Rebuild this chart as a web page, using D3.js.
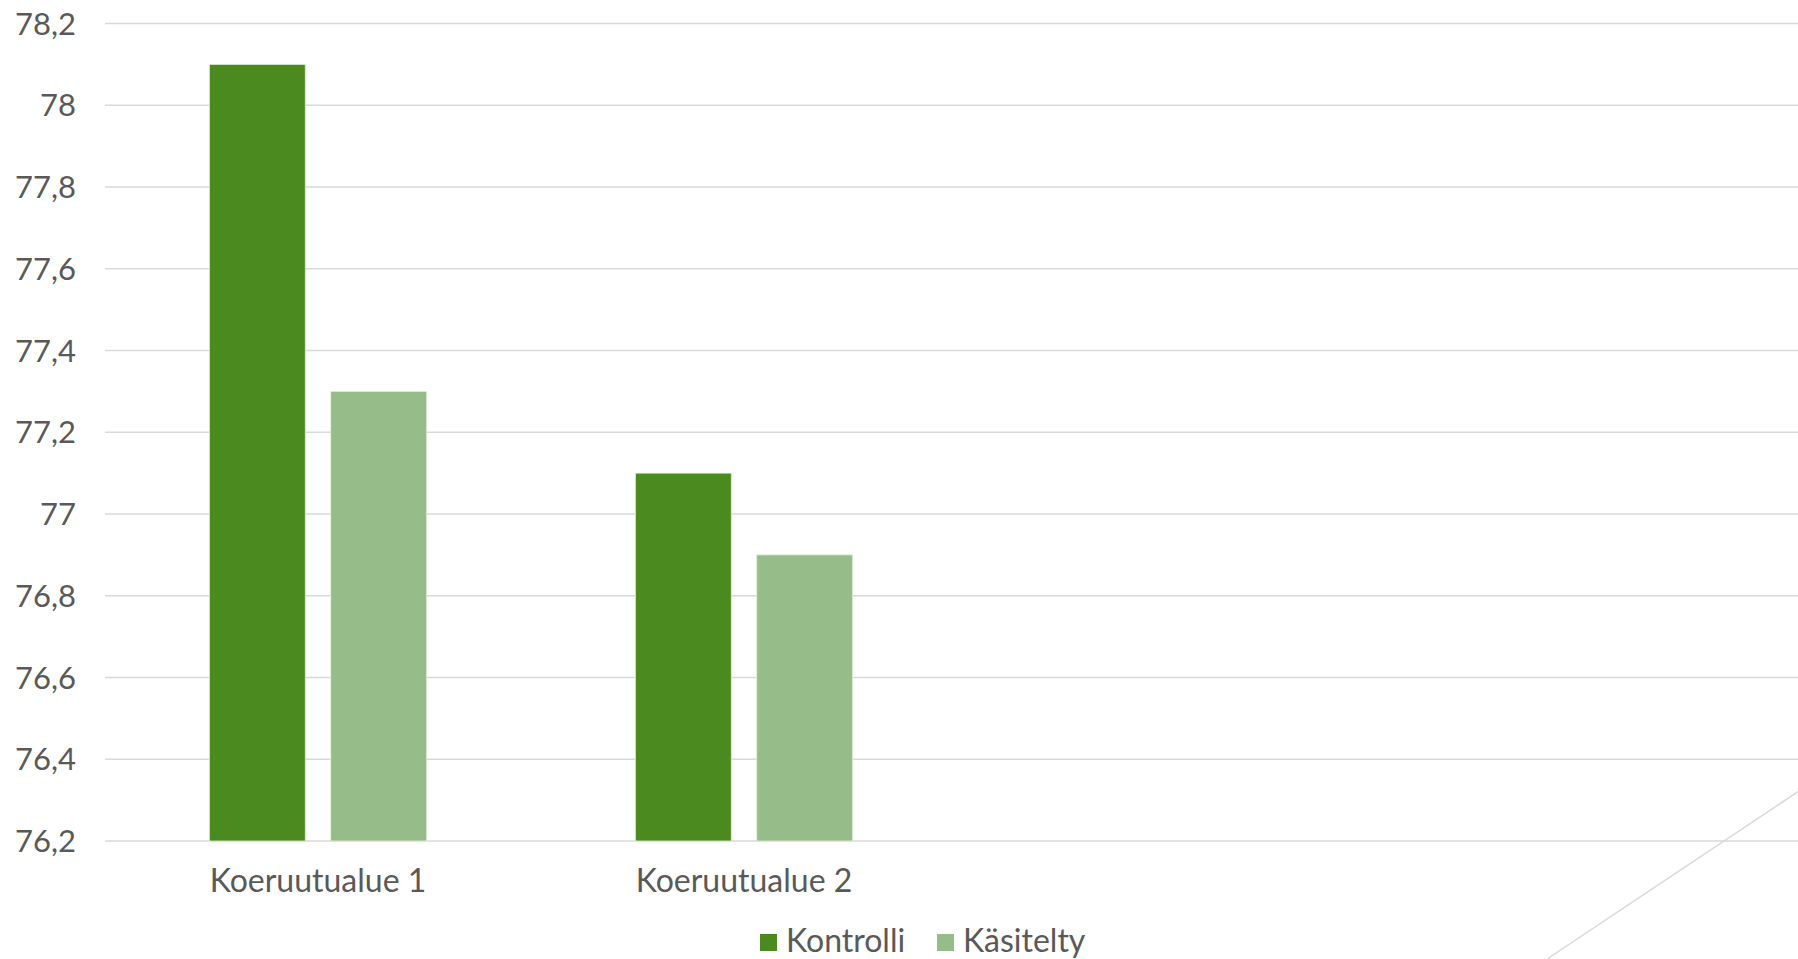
<!DOCTYPE html>
<html>
<head>
<meta charset="utf-8">
<script src="https://cdn.jsdelivr.net/npm/d3@7"></script>
<style>
  html, body { margin: 0; padding: 0; background: #ffffff; overflow: hidden; }
  svg { display: block; }
  text { font-family: "Lato", sans-serif; fill: #595959; }
</style>
</head>
<body>
<svg id="chart" width="1798" height="959"></svg>
<script>
// Chart data (the last two category slots are empty)
const categories = ["Koeruutualue 1", "Koeruutualue 2", "", ""];
const seriesNames = ["Kontrolli", "Käsitelty"];
const kontrolli = [78.1, 77.1, null, null];
const kasitelty = [77.3, 76.9, null, null];
const yTicks = [76.2, 76.4, 76.6, 76.8, 77, 77.2, 77.4, 77.6, 77.8, 78, 78.2];
const colors = ["#4a8a1e", "#96bd89"];

const svg = d3.select("#chart");
const W = 1798, H = 959;
const plot = { left: 105, right: 1809, top: 23.5, bottom: 841 };

const fiLocale = d3.formatLocale({ decimal: ",", thousands: "\u00a0", grouping: [3], currency: ["", " €"] });
const fmt = fiLocale.format("~f");

const idx = d3.range(categories.length);
const x0 = d3.scaleBand().domain(idx).range([plot.left, plot.right]);
const bw = x0.bandwidth();
const x1 = d3.scaleBand().domain(seriesNames).range([bw * 0.245, bw * 0.755]).paddingInner(0.21);
const y = d3.scaleLinear().domain([76.2, 78.2]).range([plot.bottom, plot.top]);

// decorative diagonal in the lower-right corner
svg.append("line")
  .attr("x1", 1547).attr("y1", 959).attr("x2", 1850).attr("y2", 757)
  .attr("stroke", "#d9d9d9").attr("stroke-width", 1.5);

// horizontal gridlines
svg.append("g").selectAll("line").data(yTicks).join("line")
  .attr("x1", plot.left).attr("x2", W)
  .attr("y1", d => y(d)).attr("y2", d => y(d))
  .attr("stroke", "#d9d9d9").attr("stroke-width", 1.6);

// y tick labels
svg.append("g").selectAll("text").data(yTicks).join("text")
  .attr("x", 76).attr("y", d => y(d))
  .attr("dy", "0.36em")
  .attr("text-anchor", "end")
  .attr("font-size", 31)
  .text(d => fmt(d));

// bars
const rows = idx.map(i => ({ i, vals: [kontrolli[i], kasitelty[i]] }));
const groups = svg.append("g").selectAll("g").data(rows).join("g")
  .attr("transform", d => `translate(${x0(d.i)},0)`);
groups.selectAll("rect")
  .data(d => d.vals.map((v, j) => ({ v, s: seriesNames[j], j })).filter(e => e.v != null))
  .join("rect")
  .attr("x", d => x1(d.s))
  .attr("width", x1.bandwidth())
  .attr("y", d => y(d.v))
  .attr("height", d => y(76.2) - y(d.v))
  .attr("fill", d => colors[d.j])
  .attr("stroke", "#e2efd9").attr("stroke-width", 0.8);

// category labels
svg.append("g").selectAll("text").data(idx.filter(i => categories[i])).join("text")
  .attr("x", i => x0(i) + bw / 2)
  .attr("y", 892)
  .attr("text-anchor", "middle")
  .attr("font-size", 32)
  .text(i => categories[i]);

// legend
const legendX = [760, 937];
const lg = svg.append("g").selectAll("g").data(seriesNames).join("g")
  .attr("transform", (d, i) => `translate(${legendX[i]},0)`);
lg.append("rect").attr("x", 0).attr("y", 934).attr("width", 17).attr("height", 17)
  .attr("fill", (d, i) => colors[i]);
lg.append("text").attr("x", 26).attr("y", 952).attr("font-size", 32).text(d => d);
</script>
</body>
</html>
